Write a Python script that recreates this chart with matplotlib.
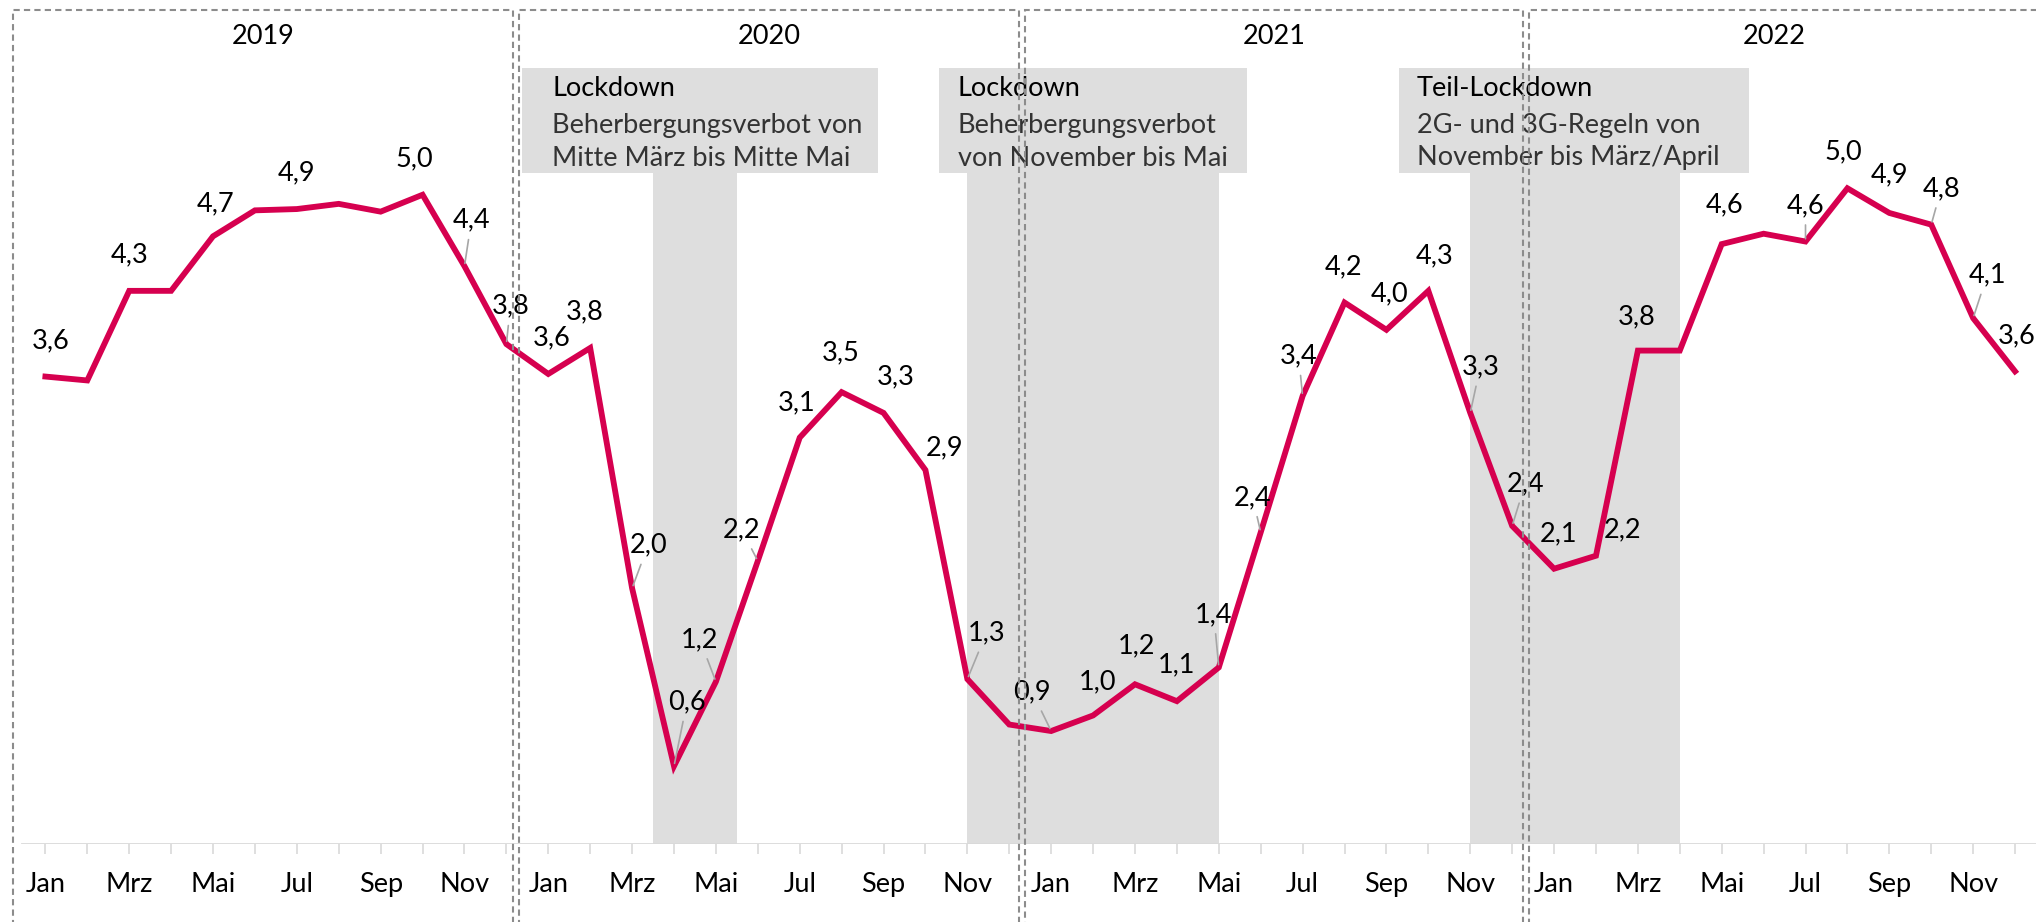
import numpy as np
import matplotlib
matplotlib.use('agg')
import matplotlib.pyplot as plt
from matplotlib.patches import Rectangle
from matplotlib.transforms import blended_transform_factory

plt.rcParams['font.family'] = ['Lato', 'DejaVu Sans']

years = ['2019', '2020', '2021', '2022']
month_names = ['Jan', 'Feb', 'Mrz', 'Apr', 'Mai', 'Jun', 'Jul', 'Aug', 'Sep', 'Okt', 'Nov', 'Dez']
tick_names = ['Jan', '', 'Mrz', '', 'Mai', '', 'Jul', '', 'Sep', '', 'Nov', '']

# Werte pro Monat (Jan 2019 .. Dez 2022)
werte = [3.6, 3.57, 4.26, 4.26, 4.68, 4.88, 4.89, 4.93, 4.87, 5.0, 4.45, 3.85,
         3.62, 3.82, 1.97, 0.6, 1.25, 2.18, 3.13, 3.48, 3.32, 2.88, 1.27, 0.92,
         0.87, 0.99, 1.23, 1.1, 1.36, 2.4, 3.45, 4.17, 3.96, 4.26, 3.32, 2.45,
         2.12, 2.22, 3.8, 3.8, 4.62, 4.7, 4.64, 5.05, 4.86, 4.77, 4.05, 3.64]

# beschriftete Punkte (Index) und Beschriftung
label_idx = [0, 2, 4, 6, 9, 10, 11,
             12, 13, 14, 15, 16, 17, 18, 19, 20, 21, 22,
             24, 25, 26, 27, 28, 29, 30, 31, 32, 33, 34, 35,
             36, 37, 38, 40, 42, 43, 44, 45, 46, 47]
label_txt = ['3,6', '4,3', '4,7', '4,9', '5,0', '4,4', '3,8',
             '3,6', '3,8', '2,0', '0,6', '1,2', '2,2', '3,1', '3,5', '3,3', '2,9', '1,3',
             '0,9', '1,0', '1,2', '1,1', '1,4', '2,4', '3,4', '4,2', '4,0', '4,3', '3,3', '2,4',
             '2,1', '2,2', '3,8', '4,6', '4,6', '5,0', '4,9', '4,8', '4,1', '3,6']
# Versatz der Beschriftung in Pixeln (dx, dy) und ob Hinweislinie
label_off = [(5, 36), (0, 36), (3, 33), (0, 36), (-8, 36), (7, 46), (4, 38),
             (3, 36), (-6, 36), (16, 43), (13, 64), (-16, 42), (-16, 31), (-3, 35), (-1, 39), (12, 36), (19, 22), (19, 46),
             (-19, 39), (4, 34), (2, 38), (0, 36), (-5, 53), (-8, 35), (-4, 40), (-1, 36), (3, 36), (6, 35), (10, 46), (13, 42),
             (4, 35), (27, 26), (-1, 34), (3, 39), (0, 36), (-4, 36), (0, 38), (10, 36), (14, 43), (2, 36)]
leader = [0, 0, 0, 0, 0, 1, 1,
          0, 0, 1, 1, 1, 1, 0, 0, 0, 0, 1,
          1, 0, 0, 0, 1, 1, 1, 0, 0, 0, 1, 1,
          0, 0, 0, 0, 1, 0, 0, 1, 1, 0]

# Lockdown-Zeitraeume (Monatsindex)
lock_start = [14.5, 22, 34]
lock_end = [16.5, 28, 39]
box_x = [(11.37, 19.87), (21.33, 28.68), (32.29, 40.66)]
box_titel = ['Lockdown', 'Lockdown', 'Teil-Lockdown']
box_text = [['Beherbergungsverbot von', 'Mitte März bis Mitte Mai'],
            ['Beherbergungsverbot', 'von November bis Mai'],
            ['2G- und 3G-Regeln von', 'November bis März/April']]
box_text_x = [12.09, 21.77, 32.73]

# Jahresrahmen (links, rechts) in Monatsindex
rahmen = [(-0.77, 11.16), (11.3, 23.24), (23.37, 35.27), (35.4, 47.6)]

fig = plt.figure(figsize=(20.36, 9.22), dpi=100)
ax = fig.add_axes([0, 78 / 922, 1, 844 / 922])
x = np.arange(len(werte))
ax.set_xlim(-1.083, 47.5)
ax.set_ylim(0, 6.5)
fs = 19.5

grau = '#dedede'
bt = blended_transform_factory(ax.transData, ax.transAxes)
for s, e in zip(lock_start, lock_end):
    ax.axvspan(s, e, ymin=0, ymax=0.795, color=grau, lw=0, zorder=0)
for (b0, b1), t, lines, tx in zip(box_x, box_titel, box_text, box_text_x):
    ax.add_patch(Rectangle((b0, 0.795), b1 - b0, 0.125, transform=bt, color=grau, lw=0, zorder=0))
    ax.text(tx, 1 - 88 / 844, t, transform=bt, fontsize=fs, va='center', ha='left', color='black')
    for k, l in enumerate(lines):
        ax.text(tx, 1 - (126 + 32 * k) / 844, l, transform=bt,
                fontsize=fs, va='center', ha='left', color='#333333')

ax.plot(x, werte, color='#d6004f', lw=4.2, solid_joinstyle='miter', zorder=3)

for i, t, (dx, dy), ld in zip(label_idx, label_txt, label_off, leader):
    if ld:
        ax.annotate(t, (x[i], werte[i]), xytext=(dx, dy), textcoords='offset pixels',
                    ha='center', va='center', fontsize=fs, zorder=4,
                    arrowprops=dict(arrowstyle='-', color='#a6a6a6', lw=1.2, shrinkA=3, shrinkB=2))
    else:
        ax.annotate(t, (x[i], werte[i]), xytext=(dx, dy), textcoords='offset pixels',
                    ha='center', va='center', fontsize=fs, zorder=4)

# Achse
for sp in ax.spines.values():
    sp.set_visible(False)
ax.axhline(0, xmin=0.011, xmax=1, color='#d9d9d9', lw=2, zorder=1)
ax.set_yticks([])
ax.set_xticks(x)
ax.set_xticklabels(tick_names * len(years), fontsize=fs)
ax.tick_params(axis='x', length=7, width=1.2, color='#d9d9d9', pad=13)

tr = blended_transform_factory(ax.transData, fig.transFigure)
for (left, right), y in zip(rahmen, years):
    fig.add_artist(Rectangle((left, -0.05), right - left, 1.039, transform=tr, fill=False,
                             edgecolor='#8c8c8c', lw=1.5, ls=(0, (3, 2)), clip_on=False))
    fig.text((left + min(right, 47.1)) / 2, 1 - 36 / 922, y, transform=tr, ha='center', va='center', fontsize=fs)

fig.savefig('out.png', dpi=100)
